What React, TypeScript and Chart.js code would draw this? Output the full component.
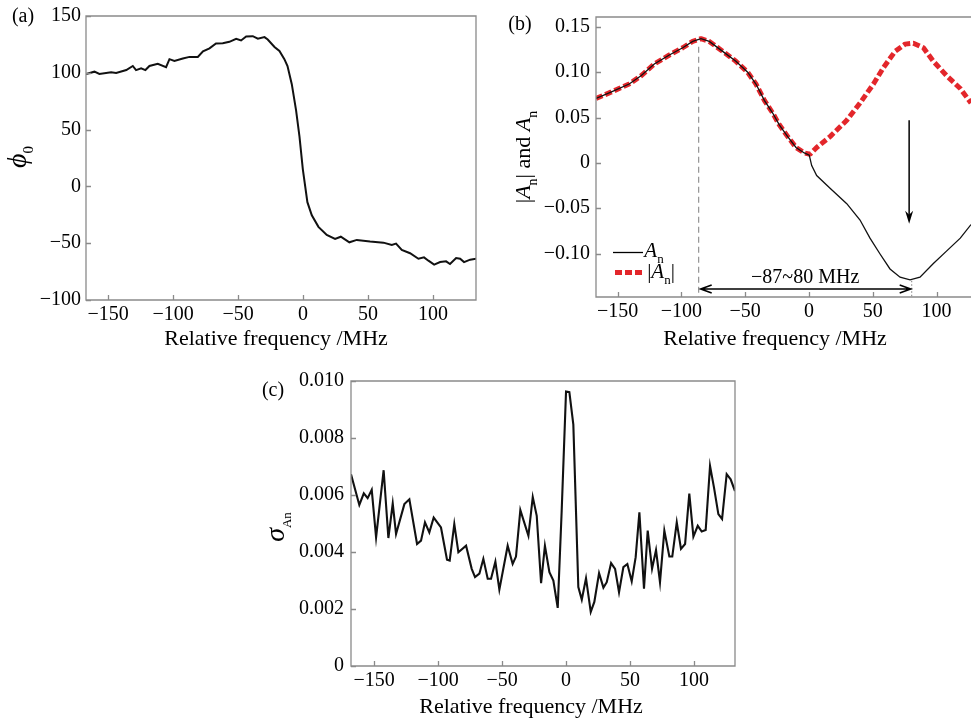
import React, { useEffect, useRef } from "react";
import { Chart, registerables } from "chart.js";

Chart.register(...registerables);

const FONT = '"Liberation Serif", "Times New Roman", serif';
const TICK_SIZE = 20;
const TITLE_SIZE = 22;
const FRAME = "#8a8a8a";
const RED = "#e3262b";

// ---------- Panel (a): phase ----------
const phaseFreq = [
  -167, -160.5, -156.7, -147.7, -143.8, -136, -131, -128.5, -124.6, -121.3, -118.2, -111.8, -105.4,
  -102.8, -99, -92.5, -87.4, -81, -77, -72, -67, -61.8, -56.7, -51.5, -47.7, -43.8, -38.7, -34.8,
  -29.7, -27.2, -22, -18.2, -14.4, -12, -8.7, -5.4, -2.8, -0.2, 3.3, 6.7, 11.8, 18.2, 24.6, 29,
  35.6, 41.3, 51.5, 61.8, 68.2, 71.5, 75.9, 82.3, 88.7, 93, 96.4, 100.8, 105.4, 110, 113, 117.7,
  120.8, 123.8, 128.5, 133,
];
const phaseVals = [
  99, 101, 99, 100.4, 99.8, 102.4, 106, 102.4, 104, 102.4, 106, 108, 105, 112, 110.5, 112.6, 114,
  114, 119, 121.5, 125.9, 126, 127.3, 130, 128.5, 132, 132.2, 130, 131.4, 129.3, 122.7, 119.2, 112,
  106, 90, 67, 44, 15, -13.9, -25.4, -35.6, -42.8, -46.3, -44.3, -49.2, -47.1, -48.6, -49.5, -51.5,
  -50.4, -55.9, -58.8, -63.7, -62.5, -65.4, -68.8, -66.6, -66, -68.3, -63.1, -63.7, -66.6, -64.5,
  -63.7,
];
const phaseXTicks = [-150, -100, -50, 0, 50, 100];
const phaseYTicks = [-100, -50, 0, 50, 100, 150];

// ---------- Panel (b): A_n and |A_n| ----------
const anFreq = [
  -167, -155.3, -141, -131.7, -121.3, -109.5, -99, -91.2, -84.7, -78.2, -67.7, -57.3, -48.1, -41.6,
  -35, -28.5, -23.3, -16.7, -10.2, -3.7, 0.2, 2.1, 6, 16.5, 29.6, 40, 47.8, 55.7, 63.5, 71.4, 79.2,
  87, 97.5, 108, 118.6, 127,
];
const anVals = [
  0.071, 0.078, 0.087, 0.096, 0.109, 0.119, 0.127, 0.134, 0.137, 0.134, 0.123, 0.112, 0.1, 0.087,
  0.069, 0.055, 0.042, 0.029, 0.017, 0.011, 0.0085, -0.003, -0.014, -0.028, -0.045, -0.063, -0.083,
  -0.1005, -0.117, -0.126, -0.129, -0.126, -0.111, -0.097, -0.083, -0.068,
];
const absFreq = [
  -167, -155.3, -141, -131.7, -121.3, -109.5, -99, -91.2, -84.7, -78.2, -67.7, -57.3, -48.1, -41.6,
  -35, -28.5, -23.3, -16.7, -10.2, -3.7, 0.8, 6, 16.5, 29.6, 40, 50.5, 58.3, 67.5, 75.3, 81.8, 89.7,
  97.5, 108, 118.6, 127,
];
const absVals = [
  0.071, 0.078, 0.087, 0.096, 0.109, 0.119, 0.127, 0.134, 0.137, 0.134, 0.123, 0.112, 0.1, 0.087,
  0.069, 0.055, 0.042, 0.029, 0.017, 0.011, 0.0095, 0.017, 0.029, 0.047, 0.066, 0.087, 0.105, 0.123,
  0.131, 0.132, 0.127, 0.112, 0.096, 0.082, 0.066,
];
const ampXTicks = [-150, -100, -50, 0, 50, 100];
const ampYTicks = [-0.1, -0.05, 0, 0.05, 0.1, 0.15];
const spanStart = -86.5; // "−87~80 MHz" marker positions
const spanEnd = 80.5;
const spanLabel = "\u221287~80 MHz";
const peakArrowFreq = 78.5;

// ---------- Panel (c): sigma ----------
const sigmaFreq = [
  -168, -161.5, -158, -155, -151.8, -148.4, -142.5, -138.8, -135.4, -132.8, -126.3, -122.4, -116.4,
  -113.3, -110.2, -106.8, -103.4, -97.7, -93, -90.9, -87.3, -84.1, -78.1, -73.7, -71.1, -67.7,
  -64.6, -61.2, -58.6, -55.2, -52.1, -45.6, -41.7, -39.1, -35.7, -29.4, -26, -22.9, -19.5, -16.5,
  -13, -9.9, -6.5, -3.4, 0, 2.6, 5.7, 9.6, 12.3, 15.6, 19.3, 22.1, 25.8, 29.2, 31.8, 35.2, 38.3,
  41.4, 44.8, 47.9, 51.3, 54.4, 57.3, 60.9, 63.8, 67.2, 70.3, 73.4, 76.8, 80.7, 83, 86.5, 89.8, 93,
  96.3, 99.5, 102.9, 106, 109.1, 112.5, 115.6, 119, 121.9, 125.5, 128.6, 132,
];
const sigmaVals = [
  0.00673, 0.00565, 0.00606, 0.00589, 0.00618, 0.00451, 0.00687, 0.00449, 0.0057, 0.00463, 0.00568,
  0.00585, 0.00428, 0.0044, 0.00504, 0.00469, 0.00521, 0.00486, 0.00373, 0.0037, 0.00498, 0.00399,
  0.00422, 0.00341, 0.00312, 0.00324, 0.00376, 0.00306, 0.00306, 0.00366, 0.00268, 0.00422,
  0.00358, 0.00384, 0.00547, 0.00457, 0.00593, 0.00527, 0.00291, 0.00422, 0.00329, 0.003, 0.00204,
  0.00545, 0.00963, 0.00961, 0.00847, 0.00277, 0.00233, 0.00308, 0.0019, 0.00225, 0.00326, 0.00275,
  0.00294, 0.00361, 0.00341, 0.00259, 0.00347, 0.00358, 0.00297, 0.00382, 0.00539, 0.00271,
  0.00475, 0.00341, 0.00407, 0.00294, 0.00475, 0.00384, 0.00384, 0.00504, 0.00411, 0.00428,
  0.00605, 0.00454, 0.00492, 0.00472, 0.00477, 0.00702, 0.00626, 0.00533, 0.00516, 0.00673,
  0.00655, 0.00614,
];
const sigmaXTicks = [-150, -100, -50, 0, 50, 100];
const sigmaYTicks = [0, 0.002, 0.004, 0.006, 0.008, 0.01];

const xTitle = "Relative frequency /MHz";

// ---------- helpers ----------
const zip = (xs: number[], ys: number[]) =>
  xs.slice(0, Math.min(xs.length, ys.length)).map((x, i) => ({ x, y: ys[i] }));

const fmt = (v: number, d: number) => {
  if (Math.abs(v) < 1e-9) return "0";
  const s = Math.abs(v).toFixed(d);
  return v < 0 ? "\u2212" + s : s;
};

type Part = { t: string; italic?: boolean; sub?: boolean; size?: number };

function drawRich(
  ctx: CanvasRenderingContext2D,
  parts: Part[],
  x: number,
  y: number,
  base: number,
  rotate: boolean
) {
  ctx.save();
  ctx.translate(x, y);
  if (rotate) ctx.rotate(-Math.PI / 2);
  const fontOf = (p: Part) =>
    `${p.italic ? "italic " : ""}${p.size ?? (p.sub ? Math.round(base * 0.62) : base)}px ${FONT}`;
  let total = 0;
  for (const p of parts) {
    ctx.font = fontOf(p);
    total += ctx.measureText(p.t).width;
  }
  let cx = -total / 2;
  ctx.textBaseline = "alphabetic";
  ctx.textAlign = "left";
  ctx.fillStyle = "#000";
  for (const p of parts) {
    ctx.font = fontOf(p);
    ctx.fillText(p.t, cx, p.sub ? base * 0.3 : 0);
    cx += ctx.measureText(p.t).width;
  }
  ctx.restore();
}

function drawText(ctx: CanvasRenderingContext2D, t: string, x: number, y: number, size: number) {
  ctx.save();
  ctx.font = `${size}px ${FONT}`;
  ctx.fillStyle = "#000";
  ctx.textAlign = "center";
  ctx.textBaseline = "alphabetic";
  ctx.fillText(t, x, y);
  ctx.restore();
}

function axis(
  min: number,
  max: number,
  ticks: number[],
  dec: number,
  size: number,
  horizontal: boolean,
  pad: number
) {
  return {
    type: "linear" as const,
    min,
    max,
    afterBuildTicks: (s: any) => {
      s.ticks = ticks.map((v) => ({ value: v }));
    },
    afterFit: (s: any) => {
      if (horizontal) s.height = size;
      else s.width = size;
    },
    grid: { display: false, drawTicks: false },
    border: { display: false },
    ticks: {
      font: { family: FONT, size: TICK_SIZE, lineHeight: 1.1 },
      color: "#000",
      padding: pad,
      maxRotation: 0,
      autoSkip: false,
      callback: (v: any) => fmt(Number(v), dec),
    },
  };
}

function framePlugin(closedRight: boolean, extra: (chart: any, ctx: CanvasRenderingContext2D) => void) {
  return {
    id: "frameAndText",
    afterDraw(chart: any) {
      const ctx: CanvasRenderingContext2D = chart.ctx;
      const a = chart.chartArea;
      const sx = chart.scales.x;
      const sy = chart.scales.y;
      ctx.save();
      ctx.strokeStyle = FRAME;
      ctx.lineWidth = 1.3;
      ctx.beginPath();
      if (closedRight) {
        ctx.rect(a.left, a.top, a.right - a.left, a.bottom - a.top);
      } else {
        ctx.moveTo(a.right + 2, a.top);
        ctx.lineTo(a.left, a.top);
        ctx.lineTo(a.left, a.bottom);
        ctx.lineTo(a.right + 2, a.bottom);
      }
      for (const t of sx.ticks) {
        const px = Math.round(sx.getPixelForValue(t.value)) + 0.5;
        ctx.moveTo(px, a.bottom);
        ctx.lineTo(px, a.bottom - 5);
      }
      for (const t of sy.ticks) {
        const py = Math.round(sy.getPixelForValue(t.value)) + 0.5;
        ctx.moveTo(a.left, py);
        ctx.lineTo(a.left + 5, py);
      }
      ctx.stroke();
      ctx.restore();
      extra(chart, ctx);
    },
  };
}

const baseOptions = (padding: any) => ({
  responsive: false,
  maintainAspectRatio: false,
  animation: false as const,
  events: [] as any[],
  layout: { padding },
  plugins: { legend: { display: false }, tooltip: { enabled: false } },
});

// ---------- chart configs ----------
function configA(): any {
  return {
    type: "line",
    data: {
      datasets: [
        {
          data: zip(phaseFreq, phaseVals),
          borderColor: "#111",
          borderWidth: 2,
          pointRadius: 0,
          tension: 0,
        },
      ],
    },
    options: {
      ...baseOptions({ top: 12, left: 0, right: 14, bottom: 0 }),
      scales: {
        x: axis(-167, 133, phaseXTicks, 0, 60, true, 4),
        y: axis(-100, 150, phaseYTicks, 0, 86, false, 5),
      },
    },
    plugins: [
      framePlugin(true, (chart, ctx) => {
        drawText(ctx, "(a)", 23, 22, 20);
        drawText(ctx, xTitle, 276, 345, TITLE_SIZE);
        drawRich(ctx, [{ t: "\u03d5", italic: true, size: 28 }, { t: "0", sub: true, size: 15 }], 26, 157, 22, true);
      }),
    ],
  };
}

function configB(): any {
  return {
    type: "line",
    data: {
      datasets: [
        {
          data: zip(anFreq, anVals),
          borderColor: "#111",
          borderWidth: 1.3,
          pointRadius: 0,
          tension: 0,
        },
        {
          data: zip(absFreq, absVals),
          borderColor: RED,
          borderWidth: 5,
          borderDash: [7, 3],
          borderCapStyle: "butt",
          borderJoinStyle: "bevel",
          pointRadius: 0,
          tension: 0,
        },
      ],
    },
    options: {
      ...baseOptions({ top: 12, left: 0, right: 0, bottom: 0 }),
      scales: {
        x: axis(-167, 127, ampXTicks, 0, 63, true, 4),
        y: axis(-0.1479, 0.1609, ampYTicks, 2, 106, false, 6),
      },
    },
    plugins: [
      framePlugin(false, (chart, ctx) => {
        const sx = chart.scales.x;
        const sy = chart.scales.y;
        const a = chart.chartArea;
        const x1 = sx.getPixelForValue(spanStart);
        const x2 = sx.getPixelForValue(spanEnd);
        ctx.save();
        // dashed vertical at left peak
        ctx.strokeStyle = "#8a8a8a";
        ctx.lineWidth = 1.1;
        ctx.setLineDash([6, 4]);
        ctx.beginPath();
        ctx.moveTo(x1, sy.getPixelForValue(0.128));
        ctx.lineTo(x1, a.bottom);
        ctx.stroke();
        // dotted vertical at A_n minimum
        ctx.setLineDash([1.5, 2]);
        ctx.beginPath();
        ctx.moveTo(x2, sy.getPixelForValue(-0.13));
        ctx.lineTo(x2, a.bottom);
        ctx.stroke();
        ctx.setLineDash([]);
        // double arrow
        const ya = sy.getPixelForValue(-0.139);
        ctx.strokeStyle = "#000";
        ctx.lineWidth = 1.6;
        ctx.beginPath();
        ctx.moveTo(x1 + 2, ya);
        ctx.lineTo(x2 - 1, ya);
        ctx.moveTo(x1 + 13, ya - 4);
        ctx.lineTo(x1 + 2, ya);
        ctx.lineTo(x1 + 13, ya + 4);
        ctx.moveTo(x2 - 12, ya - 4);
        ctx.lineTo(x2 - 1, ya);
        ctx.lineTo(x2 - 12, ya + 4);
        ctx.stroke();
        // down arrow
        const xd = sx.getPixelForValue(peakArrowFreq);
        const yTop = sy.getPixelForValue(0.047);
        const yTip = sy.getPixelForValue(-0.067);
        ctx.lineWidth = 1.5;
        ctx.beginPath();
        ctx.moveTo(xd, yTop);
        ctx.lineTo(xd, yTip - 4);
        ctx.stroke();
        ctx.fillStyle = "#000";
        ctx.beginPath();
        ctx.moveTo(xd, yTip);
        ctx.lineTo(xd - 4, yTip - 13);
        ctx.lineTo(xd, yTip - 9);
        ctx.lineTo(xd + 4, yTip - 13);
        ctx.closePath();
        ctx.fill();
        ctx.restore();
        drawText(ctx, spanLabel, (x1 + x2) / 2, sy.getPixelForValue(-0.1325), 20);

        // legend
        ctx.save();
        ctx.strokeStyle = "#000";
        ctx.lineWidth = 1.3;
        ctx.beginPath();
        ctx.moveTo(123, 252.5);
        ctx.lineTo(153, 252.5);
        ctx.stroke();
        ctx.strokeStyle = RED;
        ctx.lineWidth = 5;
        ctx.setLineDash([7, 3]);
        ctx.beginPath();
        ctx.moveTo(125, 272.5);
        ctx.lineTo(155, 272.5);
        ctx.stroke();
        ctx.restore();
        drawRich(ctx, [{ t: "A", italic: true }, { t: "n", sub: true }], 164, 257, 21, false);
        drawRich(ctx, [{ t: "|" }, { t: "A", italic: true }, { t: "n", sub: true }, { t: "|" }], 171, 278, 21, false);

        drawText(ctx, "(b)", 30, 30, 20);
        drawText(ctx, xTitle, 285, 345, TITLE_SIZE);
        drawRich(
          ctx,
          [
            { t: "|" },
            { t: "A", italic: true },
            { t: "n", sub: true },
            { t: "| and " },
            { t: "A", italic: true },
            { t: "n", sub: true },
          ],
          40,
          157,
          22,
          true
        );
      }),
    ],
  };
}

function configC(): any {
  return {
    type: "line",
    data: {
      datasets: [
        {
          data: zip(sigmaFreq, sigmaVals),
          borderColor: "#111",
          borderWidth: 2.1,
          pointRadius: 0,
          tension: 0,
        },
      ],
    },
    options: {
      ...baseOptions({ top: 21, left: 0, right: 5, bottom: 0 }),
      scales: {
        x: axis(-168, 132, sigmaXTicks, 0, 56, true, 4),
        y: axis(0, 0.01, sigmaYTicks, 3, 111, false, 7),
      },
    },
    plugins: [
      framePlugin(true, (chart, ctx) => {
        drawText(ctx, "(c)", 33, 36, 20);
        drawText(ctx, xTitle, 291, 353, TITLE_SIZE);
        drawRich(ctx, [{ t: "\u03c3", italic: true, size: 28 }, { t: "An", sub: true, size: 13 }], 44, 167, 22, true);
      }),
    ],
  };
}

function Panel(props: { left: number; top: number; width: number; height: number; make: () => any }) {
  const ref = useRef<HTMLCanvasElement>(null);
  useEffect(() => {
    const chart = new Chart(ref.current as HTMLCanvasElement, props.make());
    return () => chart.destroy();
  }, []);
  return (
    <div style={{ position: "absolute", left: props.left, top: props.top, width: props.width, height: props.height }}>
      <canvas
        ref={ref}
        width={props.width}
        height={props.height}
        style={{ display: "block", width: props.width, height: props.height }}
      />
    </div>
  );
}

export default function App() {
  return (
    <div
      style={{
        position: "absolute",
        left: 0,
        top: 0,
        width: 971,
        height: 722,
        overflow: "hidden",
        background: "#fff",
      }}
    >
      <Panel left={0} top={0} width={490} height={360} make={configA} />
      <Panel left={490} top={0} width={481} height={360} make={configB} />
      <Panel left={240} top={360} width={500} height={362} make={configC} />
    </div>
  );
}
